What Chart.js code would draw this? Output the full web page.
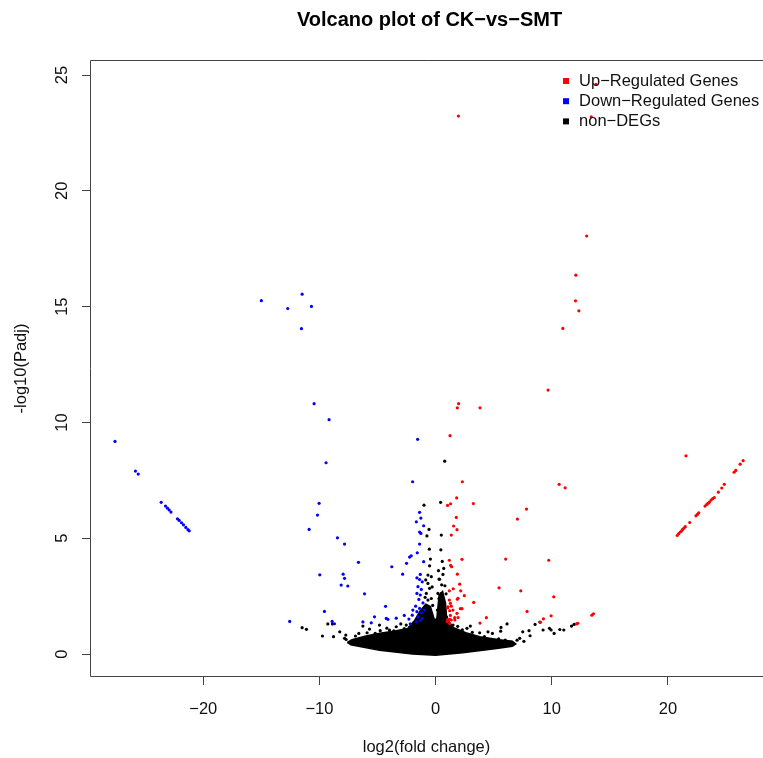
<!DOCTYPE html>
<html>
<head>
<meta charset="utf-8">
<title>Volcano plot of CK-vs-SMT</title>
<script src="https://cdn.jsdelivr.net/npm/chart.js@4.4.1/dist/chart.umd.min.js"></script>
<style>
  html, body { margin: 0; padding: 0; background: #fff; overflow: hidden; }
</style>
</head>
<body>
<canvas id="volcano" width="763" height="758"></canvas>
<script>
const chartTitle = 'Volcano plot of CK\u2212vs\u2212SMT';
const xTitle = 'log2(fold change)';
const yTitle = '-log10(Padj)';
const xTickValues = [-20, -10, 0, 10, 20];
const yTickValues = [0, 5, 10, 15, 20, 25];
const legendLabels = ['Up\u2212Regulated Genes', 'Down\u2212Regulated Genes', 'non\u2212DEGs'];

// [log2FC, -log10(padj)]
const upGenes = [
  [1.96, 23.23], [13.8, 24.6], [13.4, 23.2], [13.0, 18.05], [12.07, 16.36], [12.04, 15.25],
  [12.33, 14.82], [10.95, 14.06], [9.68, 11.4], [1.98, 10.81], [1.87, 10.63], [3.82, 10.63],
  [1.24, 9.43], [2.3, 7.44], [10.63, 7.33], [11.15, 7.18], [1.81, 6.74], [1.29, 6.49],
  [1.03, 6.42], [3.25, 6.5], [7.82, 6.26], [7.04, 5.83], [1.78, 5.9], [1.55, 5.53],
  [1.84, 5.37], [1.35, 5.14], [1.18, 4.05], [1.29, 3.83], [1.38, 3.77], [2.27, 4.09],
  [1.87, 3.45], [2.07, 3.02], [1.52, 2.82], [1.18, 2.73], [2.16, 2.73], [2.47, 2.52],
  [1.87, 2.37], [1.18, 2.33], [1.93, 2.41], [1.27, 2.19], [1.03, 1.99], [1.35, 2.07],
  [1.49, 1.9], [1.06, 2.04], [1.21, 1.87], [2.13, 1.96], [2.27, 1.96], [1.84, 1.76],
  [1.27, 1.67], [1.93, 1.58], [1.06, 1.5], [1.35, 1.47], [1.64, 1.57], [1.21, 1.5],
  [1.0, 1.41], [1.21, 1.32], [1.66, 1.47], [6.03, 4.1], [9.74, 4.05], [5.46, 2.86],
  [7.33, 2.73], [10.17, 2.47], [3.28, 2.23], [7.87, 1.84], [9.94, 1.65], [4.37, 1.57],
  [3.82, 1.34], [9.28, 1.52], [9.02, 1.37], [12.24, 1.33], [12.13, 1.3], [13.45, 1.68],
  [13.59, 1.74], [21.55, 8.56],
  [20.8, 5.12], [20.92, 5.2], [21.06, 5.27], [21.18, 5.32], [21.26, 5.38], [21.38, 5.44],
  [21.49, 5.5], [21.87, 5.68], [22.41, 5.97], [22.53, 6.03], [22.65, 6.1], [23.19, 6.39],
  [23.34, 6.46], [23.45, 6.51], [23.56, 6.56], [23.71, 6.65], [23.85, 6.71], [23.99, 6.76],
  [24.34, 6.99], [24.63, 7.17], [24.85, 7.33], [25.69, 7.85], [25.84, 7.93], [26.21, 8.2],
  [26.47, 8.35]
];

const downGenes = [
  [-27.6, 9.18], [-25.84, 7.9], [-25.6, 7.77], [-23.62, 6.55], [-23.25, 6.39], [-23.08, 6.3],
  [-22.93, 6.22], [-22.78, 6.13], [-22.22, 5.84], [-22.07, 5.77], [-21.87, 5.67], [-21.7, 5.58],
  [-21.5, 5.47], [-21.32, 5.37], [-21.21, 5.32],
  [-15.0, 15.26], [-12.73, 14.92], [-11.49, 15.54], [-10.69, 15.01], [-11.55, 14.05],
  [-10.46, 10.81], [-9.17, 10.12], [-9.43, 8.26], [-10.03, 6.51], [-10.17, 6.0], [-10.89, 5.38],
  [-8.45, 5.02], [-7.84, 4.75], [-6.64, 3.96], [-9.97, 3.42], [-7.96, 3.45], [-7.84, 3.27],
  [-8.13, 2.98], [-7.56, 2.94], [-6.12, 2.6], [-9.57, 1.84], [-12.56, 1.41], [-8.91, 1.41],
  [-8.71, 1.31], [-6.26, 1.39], [-5.54, 1.35], [-5.26, 1.61],
  [-1.55, 9.27], [-1.98, 7.44], [-1.38, 6.12], [-1.27, 5.87], [-1.66, 5.71], [-1.03, 5.54],
  [-1.38, 5.27], [-1.27, 5.21], [-1.38, 4.75], [-1.58, 4.37], [-2.1, 4.24], [-2.24, 4.19],
  [-2.5, 3.92], [-1.03, 3.99], [-3.77, 3.77], [-2.84, 3.45], [-1.32, 3.44], [-1.61, 3.29],
  [-1.38, 3.22], [-1.15, 3.12], [-1.52, 2.91], [-1.23, 2.79], [-1.61, 2.62], [-1.32, 2.55],
  [-1.44, 2.36], [-1.09, 2.21], [-1.72, 2.07], [-1.38, 1.97], [-1.96, 1.9], [-1.61, 1.83],
  [-1.23, 1.78], [-0.95, 1.9], [-2.01, 1.68], [-1.52, 1.61], [-1.15, 1.54], [-1.32, 1.44],
  [-1.66, 1.39], [-4.31, 2.06], [-4.25, 1.54], [-4.11, 1.5], [-3.39, 1.55], [-2.7, 1.67],
  [-2.3, 1.51], [-2.18, 1.31]
];

const nonDEGs = [
  [0.78, 8.33], [0.43, 6.55], [-1.0, 6.43], [0.49, 5.14], [-0.57, 5.38], [-0.75, 5.1],
  [-0.54, 4.53], [-0.52, 3.81], [-0.66, 3.41], [-0.37, 3.34], [-0.66, 3.05], [-0.52, 2.84],
  [-0.8, 2.62], [-0.66, 2.33], [-0.37, 2.4], [-0.95, 1.97], [-0.52, 1.83], [-0.45, 4.1],
  [-0.85, 3.2], [-0.3, 2.9], [-0.9, 2.45], [-0.25, 2.1], [-0.7, 1.75], [-1.0, 1.6],
  [0.57, 4.0], [0.63, 3.44], [0.29, 3.24], [0.52, 2.99], [0.8, 2.95], [0.34, 3.23],
  [0.49, 2.62], [0.29, 2.4], [0.63, 2.21], [0.34, 2.04], [0.78, 1.83], [0.2, 2.62],
  [0.45, 4.5], [0.7, 3.7], [0.25, 3.6], [0.9, 2.6], [0.15, 1.9], [0.95, 1.6],
  [-11.49, 1.14], [-11.12, 1.07], [-9.28, 1.3], [-8.88, 1.3], [-9.74, 0.78], [-8.79, 0.75],
  [-8.25, 0.96], [-7.73, 0.82], [-7.7, 0.63], [-6.61, 0.89], [-5.69, 1.08], [-6.01, 0.7],
  [-6.26, 1.21], [-4.83, 1.25], [-4.77, 1.01], [-7.84, 0.68], [-4.4, 0.82], [-3.97, 1.04],
  [-3.39, 1.18], [-2.96, 0.96], [-2.53, 1.25], [-2.24, 1.15], [-5.2, 0.9], [-3.0, 1.3],
  [-6.9, 0.78], [-5.9, 0.92], [-4.2, 1.12], [-3.6, 1.0], [-2.7, 1.1], [-1.9, 1.35],
  [2.7, 1.11], [2.99, 1.21], [3.16, 0.94], [2.87, 0.78], [3.36, 0.75], [3.79, 0.92],
  [4.51, 0.96], [4.89, 0.89], [5.63, 1.15], [6.15, 1.3], [5.6, 0.99], [5.43, 0.66],
  [4.94, 0.6], [6.47, 0.52], [7.01, 0.6], [7.24, 0.68], [7.5, 0.96], [8.04, 1.01],
  [8.13, 0.79], [8.56, 1.28], [8.97, 1.38], [9.25, 1.04], [9.8, 1.11], [9.94, 1.04],
  [10.2, 0.89], [10.69, 1.06], [11.03, 1.04], [11.7, 1.21], [11.92, 1.28], [1.9, 1.2],
  [2.3, 1.05], [4.2, 0.75], [6.0, 0.6], [7.6, 0.55], [1.5, 1.25], [2.0, 0.95], [4.0, 0.68]
];

// outline of the solid black cloud of non-DEGs near the origin
const nonDEGCore = [
  [-7.6, 0.5], [-7.2, 0.62], [-6.0, 0.78], [-4.8, 0.9], [-3.5, 1.0], [-2.4, 1.1],
  [-1.8, 1.45], [-1.35, 1.85], [-0.85, 2.15], [-0.45, 2.05], [-0.12, 1.5], [0.1, 1.5],
  [0.3, 2.55], [0.6, 2.7], [0.85, 2.2], [0.95, 1.55], [1.5, 1.15], [2.6, 0.92],
  [3.8, 0.75], [5.5, 0.62], [6.6, 0.55], [6.9, 0.44], [6.6, 0.34], [5.26, 0.24],
  [2.33, 0.06], [0, -0.05], [-1.98, 0], [-4.83, 0.16], [-7.3, 0.4], [-7.6, 0.5]
];

// full x range of the plot box; its right edge lies just outside the picture
const xFullMin = -29.75;
const xFullMax = 28.7;

const toXY = pts => pts.map(p => ({ x: p[0], y: p[1] }));
const fmt = v => (v < 0 ? '\u2212' + Math.abs(v) : String(v));
const fontFamily = "'Liberation Sans', Arial, Helvetica, sans-serif";
const textColor = '#111';

const rPlotPlugin = {
  id: 'rPlot',
  afterDraw(chart) {
    const { ctx, chartArea: a, scales } = chart;
    const boxRight = scales.x.getPixelForValue(xFullMax);
    const boxLeft = scales.x.getPixelForValue(xFullMin);
    ctx.save();
    // nothing belongs in the last columns: the box edge is outside the picture
    ctx.clearRect(a.right - 3, a.top + 1, 3, a.bottom - a.top - 2);

    ctx.strokeStyle = '#444';
    ctx.lineWidth = 1;
    ctx.beginPath();
    ctx.moveTo(boxRight, a.top + 0.5);
    ctx.lineTo(a.left + 0.5, a.top + 0.5);
    ctx.lineTo(a.left + 0.5, a.bottom - 0.5);
    ctx.lineTo(boxRight, a.bottom - 0.5);
    ctx.stroke();

    ctx.fillStyle = '#000';
    ctx.font = 'bold 20px ' + fontFamily;
    ctx.textAlign = 'center';
    ctx.textBaseline = 'middle';
    ctx.fillText(chartTitle, (boxLeft + boxRight) / 2, 20);

    // y tick labels, rotated like R's default
    ctx.fillStyle = textColor;
    ctx.font = '16.5px ' + fontFamily;
    yTickValues.forEach(v => {
      const y = scales.y.getPixelForValue(v);
      ctx.save();
      ctx.translate(a.left - 28, y);
      ctx.rotate(-Math.PI / 2);
      ctx.fillText(fmt(v), 0, 0);
      ctx.restore();
    });

    // legend in the top right corner of the plot
    ctx.textAlign = 'left';
    legendLabels.forEach((label, i) => {
      const ds = chart.data.datasets.find(d => d.label === label);
      const y = a.top + 21 + i * 20.2;
      ctx.fillStyle = ds.pointBackgroundColor;
      ctx.fillRect(boxRight - 206, y - 3, 6, 6);
      ctx.fillStyle = textColor;
      ctx.fillText(label, boxRight - 190, y);
    });
    ctx.restore();
  }
};

const pointStyle = color => ({
  pointBackgroundColor: color,
  pointBorderWidth: 0,
  pointRadius: 1.6,
  showLine: false
});

new Chart(document.getElementById('volcano'), {
  type: 'scatter',
  data: {
    datasets: [
      Object.assign({ label: legendLabels[0], data: toXY(upGenes), order: 1 }, pointStyle('#ff0000')),
      Object.assign({ label: legendLabels[1], data: toXY(downGenes), order: 2 }, pointStyle('#0000ff')),
      Object.assign({ label: legendLabels[2], data: toXY(nonDEGs), order: 3 }, pointStyle('#000000')),
      {
        label: 'core',
        data: toXY(nonDEGCore),
        order: 4,
        showLine: true,
        fill: 'shape',
        tension: 0,
        backgroundColor: '#000',
        borderColor: '#000',
        borderWidth: 1.5,
        pointRadius: 0
      }
    ]
  },
  options: {
    responsive: false,
    animation: false,
    events: [],
    layout: { autoPadding: false, padding: { top: 60, right: 0, left: 0, bottom: 0 } },
    plugins: {
      legend: { display: false },
      tooltip: { enabled: false },
      title: { display: false }
    },
    scales: {
      x: {
        type: 'linear',
        min: xFullMin,
        max: 28.18,
        afterFit: s => { s.height = 81; s.paddingLeft = 0; s.paddingRight = 0; },
        afterBuildTicks: s => { s.ticks = xTickValues.map(v => ({ value: v })); },
        grid: { drawOnChartArea: false, drawTicks: true, tickLength: 8, color: '#444', lineWidth: 1 },
        border: { display: false },
        ticks: {
          color: textColor,
          font: { family: fontFamily, size: 16.5 },
          padding: 15,
          maxRotation: 0,
          autoSkip: false,
          callback: v => fmt(v)
        },
        title: {
          display: true,
          text: xTitle,
          color: textColor,
          font: { family: fontFamily, size: 16.5 },
          padding: { top: 0, bottom: 1 }
        }
      },
      y: {
        type: 'linear',
        min: -0.99,
        max: 25.65,
        afterFit: s => { s.width = 90; s.paddingTop = 0; s.paddingBottom = 0; },
        afterBuildTicks: s => { s.ticks = yTickValues.map(v => ({ value: v })); },
        grid: { drawOnChartArea: false, drawTicks: true, tickLength: 8, color: '#444', lineWidth: 1 },
        border: { display: false },
        ticks: { display: false },
        title: {
          display: true,
          text: yTitle,
          color: textColor,
          font: { family: fontFamily, size: 16.5 },
          padding: { top: 12, bottom: 0 }
        }
      }
    }
  },
  plugins: [rPlotPlugin]
});
</script>
</body>
</html>
